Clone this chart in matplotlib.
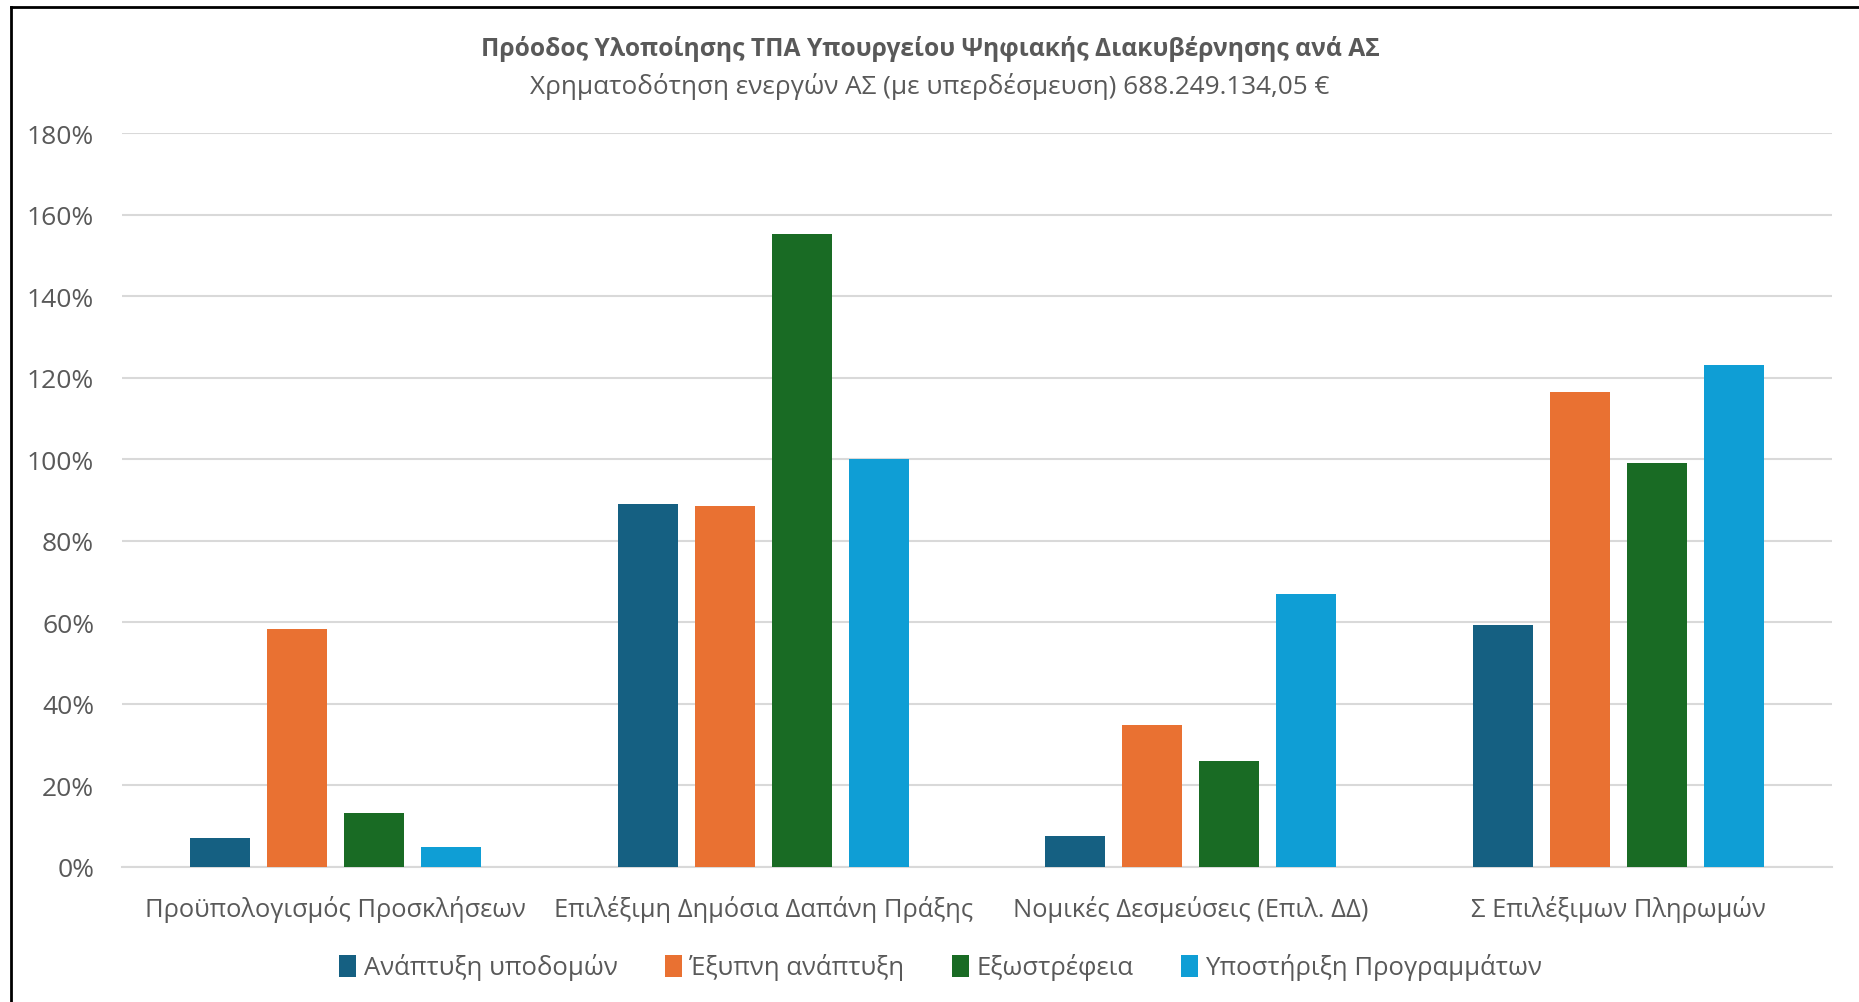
import matplotlib
matplotlib.use("Agg")
import matplotlib.pyplot as plt
import numpy as np
from matplotlib.patches import Patch
from matplotlib.lines import Line2D

plt.rcParams['font.family'] = ['Open Sans', 'DejaVu Sans']

categories = ["Προϋπολογισμός Προσκλήσεων", "Επιλέξιμη Δημόσια Δαπάνη Πράξης",
              "Νομικές Δεσμεύσεις (Επιλ. ΔΔ)", "Σ Επιλέξιμων Πληρωμών"]
series_names = ["Ανάπτυξη υποδομών", "Έξυπνη ανάπτυξη", "Εξωστρέφεια", "Υποστήριξη Προγραμμάτων"]
values = {
    "Ανάπτυξη υποδομών": [0.072, 0.890, 0.075, 0.594],
    "Έξυπνη ανάπτυξη": [0.583, 0.885, 0.348, 1.166],
    "Εξωστρέφεια": [0.132, 1.553, 0.260, 0.991],
    "Υποστήριξη Προγραμμάτων": [0.048, 1.000, 0.670, 1.230],
}
colors = ["#156082", "#E97132", "#196B24", "#0F9ED5"]
yticks = [0, 0.2, 0.4, 0.6, 0.8, 1.0, 1.2, 1.4, 1.6, 1.8]
title = "Πρόοδος Υλοποίησης ΤΠΑ Υπουργείου Ψηφιακής Διακυβέρνησης ανά ΑΣ"
subtitle = "Χρηματοδότηση ενεργών ΑΣ (με υπερδέσμευση) 688.249.134,05 €"

W, H = 1859, 1003
fig = plt.figure(figsize=(W / 100, H / 100), dpi=100)
ax = fig.add_axes([122 / W, 1 - 868 / H, (1832 - 122) / W, (868 - 134) / H])

x = np.arange(len(categories))
pitch = 0.18
width = 0.14
for i, (name, c) in enumerate(zip(series_names, colors)):
    ax.bar(x + (i - 1.5) * pitch, values[name], width=width, color=c, zorder=3)

ax.set_xlim(-0.5, len(categories) - 0.5)
ax.set_ylim(0, 1.8)
ax.set_yticks(yticks)
ax.set_yticklabels([f"{int(round(t * 100))}%" for t in yticks])
ax.yaxis.grid(True, color="#D9D9D9", linewidth=1.5, zorder=0)
ax.set_axisbelow(True)
for s in ["top", "right", "left"]:
    ax.spines[s].set_visible(False)
ax.spines["bottom"].set_color("#D9D9D9")
ax.spines["bottom"].set_linewidth(1.5)
ax.set_xticks(x)
ax.set_xticklabels(categories)
ax.tick_params(axis="y", length=0, pad=20, labelsize=19, labelcolor="#595959")
ax.tick_params(axis="x", length=0, pad=20, labelsize=18.4, labelcolor="#595959")

fig.text(930 / W, 1 - 49 / H, title, ha="center", va="center", fontsize=17.7,
         fontweight="bold", color="#595959")
fig.text(930 / W, 1 - 86 / H, subtitle, ha="center", va="center", fontsize=18.8,
         color="#595959")

handles = [Patch(facecolor=c, edgecolor="none") for c in colors]
leg = fig.legend(handles, series_names, loc="center", bbox_to_anchor=(0.506, 1 - 968 / H),
                 ncol=4, frameon=False, fontsize=18.5, handlelength=0.65, handleheight=0.95,
                 handletextpad=0.3, columnspacing=1.85, labelcolor="#595959")

# outer frame (left and top edges visible)
fig.add_artist(Line2D([11 / W, 11 / W], [0, 1 - 8 / H], transform=fig.transFigure,
                      color="black", linewidth=2))
fig.add_artist(Line2D([11 / W, 1], [1 - 8 / H, 1 - 8 / H], transform=fig.transFigure,
                      color="black", linewidth=2))

fig.savefig("out.png", dpi=100, facecolor="white")
